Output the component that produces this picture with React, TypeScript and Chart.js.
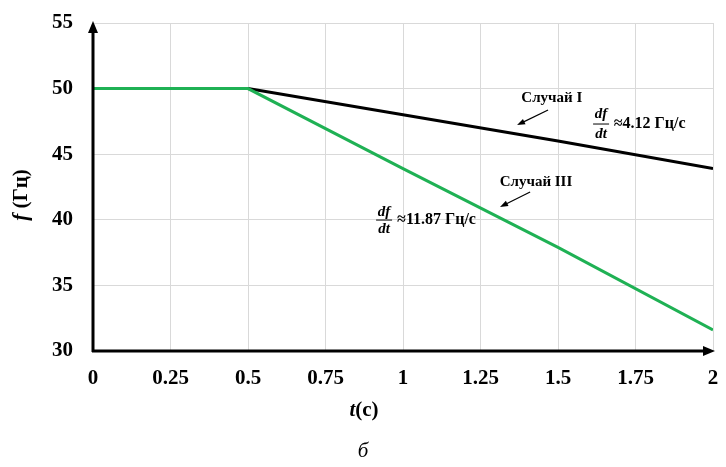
import React, { useEffect, useRef } from "react";
import { Chart, registerables } from "chart.js";

Chart.register(...registerables);

// ---- data ----
const timeCase1 = [0, 0.5, 1, 1.5, 2];
const freqCase1 = [50, 50, 48.0, 46.0, 43.9];
const timeCase3 = [0, 0.5, 1, 1.5, 2];
const freqCase3 = [50, 50, 43.9, 37.9, 31.6];

const xTicks = [0, 0.25, 0.5, 0.75, 1, 1.25, 1.5, 1.75, 2];
const yTicks = [30, 35, 40, 45, 50, 55];

const xTitle = "(с)";
const xTitleVar = "t";
const yTitleVar = "f";
const yTitle = " (Гц)";
const caption = "б";

const label1 = "Случай I";
const label3 = "Случай III";
const rate1 = "≈4.12 Гц/с";
const rate3 = "≈11.87 Гц/с";

const SERIF = "'Liberation Serif', 'Times New Roman', serif";

const annotPlugin = {
  id: "annot",
  afterDraw(chart: any) {
    const ctx = chart.ctx as CanvasRenderingContext2D;
    const xs = chart.scales.x;
    const ys = chart.scales.y;
    const { left, right, top, bottom } = chart.chartArea;
    const px = (v: number) => xs.getPixelForValue(v);
    const py = (v: number) => ys.getPixelForValue(v);

    ctx.save();
    // axes
    ctx.strokeStyle = "#000";
    ctx.fillStyle = "#000";
    ctx.lineWidth = 3;
    ctx.beginPath();
    ctx.moveTo(left, bottom + 1);
    ctx.lineTo(left, top + 8);
    ctx.stroke();
    ctx.beginPath();
    ctx.moveTo(left, top - 2);
    ctx.lineTo(left - 5, top + 10);
    ctx.lineTo(left + 5, top + 10);
    ctx.closePath();
    ctx.fill();

    ctx.beginPath();
    ctx.moveTo(left - 1, bottom);
    ctx.lineTo(right - 6, bottom);
    ctx.stroke();
    ctx.beginPath();
    ctx.moveTo(right + 2, bottom);
    ctx.lineTo(right - 10, bottom - 5);
    ctx.lineTo(right - 10, bottom + 5);
    ctx.closePath();
    ctx.fill();

    // arrows for annotations
    const drawArrow = (x1: number, y1: number, x2: number, y2: number) => {
      const a = px(x1), b = py(y1), c = px(x2), d = py(y2);
      const ang = Math.atan2(d - b, c - a);
      ctx.lineWidth = 1.2;
      ctx.beginPath();
      ctx.moveTo(a, b);
      ctx.lineTo(c - 5 * Math.cos(ang), d - 5 * Math.sin(ang));
      ctx.stroke();
      ctx.beginPath();
      ctx.moveTo(c, d);
      ctx.lineTo(c - 8 * Math.cos(ang) + 3 * Math.sin(ang), d - 8 * Math.sin(ang) - 3 * Math.cos(ang));
      ctx.lineTo(c - 8 * Math.cos(ang) - 3 * Math.sin(ang), d - 8 * Math.sin(ang) + 3 * Math.cos(ang));
      ctx.closePath();
      ctx.fill();
    };
    drawArrow(1.468, 48.37, 1.368, 47.22);
    drawArrow(1.41, 42.12, 1.313, 40.98);

    // labels
    ctx.textBaseline = "middle";
    ctx.textAlign = "center";
    ctx.font = `bold 15px ${SERIF}`;
    ctx.fillText(label1, px(1.48), py(49.28));
    ctx.fillText(label3, px(1.429), py(42.88));

    const drawFrac = (cx: number, dfY: number, barY: number, dtY: number, textX: number, text: string) => {
      const x = px(cx);
      ctx.textAlign = "center";
      ctx.font = `italic bold 15px ${SERIF}`;
      ctx.fillText("df", x, py(dfY));
      ctx.fillText("dt", x, py(dtY));
      ctx.lineWidth = 1;
      ctx.beginPath();
      ctx.moveTo(x - 8, py(barY));
      ctx.lineTo(x + 8, py(barY));
      ctx.stroke();
      ctx.textAlign = "left";
      ctx.font = `bold 16px ${SERIF}`;
      ctx.fillText(text, px(textX), py(barY));
    };
    drawFrac(1.639, 48.06, 47.3, 46.54, 1.68, rate1);
    drawFrac(0.939, 40.59, 39.98, 39.3, 0.981, rate3);

    // axis titles
    ctx.textAlign = "left";
    ctx.font = `italic bold 21px ${SERIF}`;
    const tW = ctx.measureText(xTitleVar).width;
    ctx.font = `bold 21px ${SERIF}`;
    const rW = ctx.measureText(xTitle).width;
    const tx = 364 - (tW + rW) / 2;
    ctx.font = `italic bold 21px ${SERIF}`;
    ctx.fillText(xTitleVar, tx, 411);
    ctx.font = `bold 21px ${SERIF}`;
    ctx.fillText(xTitle, tx + tW, 411);

    ctx.textAlign = "center";
    ctx.font = `italic 21px ${SERIF}`;
    ctx.fillText(caption, 363, 451);

    ctx.save();
    ctx.translate(22, 195);
    ctx.rotate(-Math.PI / 2);
    ctx.font = `italic bold 21px ${SERIF}`;
    const fW = ctx.measureText(yTitleVar).width;
    ctx.font = `bold 21px ${SERIF}`;
    const gW = ctx.measureText(yTitle).width;
    ctx.textAlign = "left";
    ctx.font = `italic bold 21px ${SERIF}`;
    ctx.fillText(yTitleVar, -(fW + gW) / 2, 0);
    ctx.font = `bold 21px ${SERIF}`;
    ctx.fillText(yTitle, -(fW + gW) / 2 + fW, 0);
    ctx.restore();

    ctx.restore();
  },
};

export default function App() {
  const ref = useRef<HTMLCanvasElement>(null);
  useEffect(() => {
    document.body.style.margin = "0";
    const chart = new Chart(ref.current!, {
      type: "line",
      data: {
        datasets: [
          {
            label: label3,
            data: timeCase3.map((t, i) => ({ x: t, y: freqCase3[i] })),
            borderColor: "#1fb154",
            borderWidth: 3,
            pointRadius: 0,
            tension: 0,
          },
          {
            label: label1,
            data: timeCase1.map((t, i) => ({ x: t, y: freqCase1[i] })),
            borderColor: "#000000",
            borderWidth: 3,
            pointRadius: 0,
            tension: 0,
          },
        ],
      },
      options: {
        animation: false,
        responsive: false,
        layout: { padding: { left: 0, right: 13, top: 23, bottom: 0 } },
        plugins: { legend: { display: false }, tooltip: { enabled: false } },
        scales: {
          x: {
            type: "linear",
            min: 0,
            max: 2,
            afterBuildTicks: (s: any) => {
              s.ticks = xTicks.map((v) => ({ value: v }));
            },
            afterFit: (s: any) => {
              s.height = 116;
              s.paddingLeft = 0;
              s.paddingRight = 0;
            },
            ticks: {
              autoSkip: false,
              maxRotation: 0,
              padding: 15,
              color: "#000",
              font: { family: SERIF, size: 21, weight: "bold" },
              callback: (v: any) => String(v),
            },
            grid: { color: "#d9d9d9", lineWidth: 1, drawTicks: false },
            border: { display: false },
          },
          y: {
            type: "linear",
            min: 30,
            max: 55,
            afterBuildTicks: (s: any) => {
              s.ticks = yTicks.map((v) => ({ value: v }));
            },
            afterFit: (s: any) => {
              s.width = 93;
              s.paddingTop = 0;
              s.paddingBottom = 0;
            },
            ticks: {
              padding: 20,
              color: "#000",
              font: { family: SERIF, size: 21, weight: "bold" },
              callback: (v: any) => String(v),
            },
            grid: { color: "#d9d9d9", lineWidth: 1, drawTicks: false },
            border: { display: false },
          },
        },
      },
      plugins: [annotPlugin],
    });
    return () => chart.destroy();
  }, []);
  return (
    <div style={{ width: 726, height: 467 }}>
      <canvas ref={ref} width={726} height={467} style={{ display: "block" }} />
    </div>
  );
}
